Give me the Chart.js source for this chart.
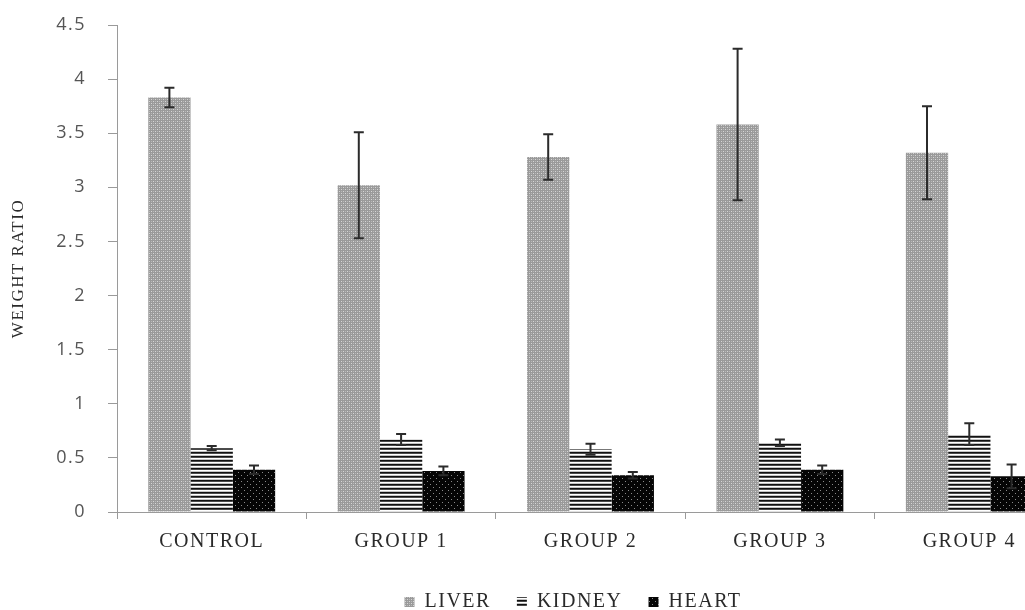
<!DOCTYPE html>
<html>
<head>
<meta charset="utf-8">
<script src="https://cdn.jsdelivr.net/npm/chart.js@4/dist/chart.umd.min.js"></script>
<style>
  html, body { margin: 0; padding: 0; background: #fff; overflow: hidden; }
  #wrap { width: 1080px; height: 610px; }
</style>
</head>
<body>
<div id="wrap"><canvas id="organChart"></canvas></div>
<script>
// Data
const groups = ['CONTROL', 'GROUP 1', 'GROUP 2', 'GROUP 3', 'GROUP 4'];
const liver = [3.83, 3.02, 3.28, 3.58, 3.32];
const liverErr = [0.09, 0.49, 0.21, 0.70, 0.43];
const kidney = [0.59, 0.67, 0.58, 0.64, 0.72];
const kidneyErr = [0.02, 0.05, 0.05, 0.03, 0.10];
const heart = [0.39, 0.38, 0.34, 0.39, 0.33];
const heartErr = [0.04, 0.04, 0.03, 0.04, 0.11];

// Build a small fill pattern from a tile
function makePattern(w, h, base, dots) {
    const c = document.createElement('canvas');
    c.width = w;
    c.height = h;
    const g = c.getContext('2d');
    g.fillStyle = base;
    g.fillRect(0, 0, w, h);
    dots.forEach(d => {
        g.fillStyle = d[4];
        g.fillRect(d[0], d[1], d[2], d[3]);
    });
    return g.createPattern(c, 'repeat');
}

const ctx = document.getElementById('organChart').getContext('2d');

// liver: grey mesh, kidney: horizontal stripes, heart: black with dots
const liverFill = makePattern(4, 4, '#9a9a9a', [
    [1, 1, 1, 1, '#d6d6d6'], [3, 3, 1, 1, '#d6d6d6'],
    [1, 3, 1, 1, '#b8b8b8'], [3, 1, 1, 1, '#b8b8b8']
]);
const kidneyFill = makePattern(4, 4, '#ffffff', [
    [0, 0, 4, 1, '#111111'], [0, 1, 4, 1, '#4a4a4a'], [0, 3, 4, 1, '#c4c4c4']
]);
const heartFill = makePattern(6, 6, '#050505', [
    [1, 1, 1, 1, '#8a8a8a'], [4, 4, 1, 1, '#8a8a8a']
]);

const errors = [liverErr, kidneyErr, heartErr];

// Draw error bars over each bar
const errorBars = {
    id: 'errorBars',
    afterDatasetsDraw(chart) {
        const y = chart.scales.y;
        const c = chart.ctx;
        c.save();
        c.strokeStyle = '#2b2b2b';
        c.lineWidth = 2;
        chart.data.datasets.forEach((ds, i) => {
            chart.getDatasetMeta(i).data.forEach((bar, j) => {
                const v = ds.data[j];
                const e = errors[i][j];
                const top = y.getPixelForValue(v + e);
                const bot = y.getPixelForValue(v - e);
                c.beginPath();
                c.moveTo(bar.x, top);
                c.lineTo(bar.x, bot);
                c.moveTo(bar.x - 5, top);
                c.lineTo(bar.x + 5, top);
                c.moveTo(bar.x - 5, bot);
                c.lineTo(bar.x + 5, bot);
                c.stroke();
            });
        });
        c.restore();
    }
};

// The figure's lettering is set a bit wide
const wideText = {
    id: 'wideText',
    beforeLayout(chart) { chart.ctx.letterSpacing = '1.5px'; },
    beforeDraw(chart) { chart.ctx.letterSpacing = '1.5px'; }
};

// Move the legend to where the figure has it
const legendNudge = {
    id: 'legendNudge',
    afterLayout(chart) {
        const l = chart.legend;
        l.left += 41;
        l.right += 41;
        l.top += 12;
        l.bottom += 12;
    }
};

new Chart(ctx, {
    type: 'bar',
    data: {
        labels: groups,
        datasets: [
            { label: 'LIVER', data: liver, backgroundColor: liverFill, borderWidth: 0 },
            { label: 'KIDNEY', data: kidney, backgroundColor: kidneyFill, borderWidth: 0 },
            { label: 'HEART', data: heart, backgroundColor: heartFill, borderWidth: 0 }
        ]
    },
    options: {
        responsive: true,
        maintainAspectRatio: false,
        animation: false,
        events: [],
        layout: { padding: { top: 25, right: 16, bottom: 0, left: 0 } },
        datasets: {
            bar: { barPercentage: 1, categoryPercentage: 0.67 }
        },
        scales: {
            x: {
                grid: { display: true, drawOnChartArea: false, offset: true, tickLength: 7, color: '#9a9a9a' },
                border: { color: '#9a9a9a' },
                ticks: {
                    color: '#2a2a2a',
                    padding: 11,
                    font: { family: 'Liberation Serif', size: 20 }
                },
                afterFit(scale) { scale.height = 42; }
            },
            y: {
                min: 0,
                max: 4.5,
                grid: { display: true, drawOnChartArea: false, tickLength: 9, color: '#9a9a9a' },
                border: { color: '#9a9a9a' },
                ticks: {
                    stepSize: 0.5,
                    color: '#555',
                    padding: 22,
                    font: { family: 'Open Sans', size: 18 },
                    callback: v => String(v)
                },
                title: {
                    display: true,
                    text: 'WEIGHT RATIO',
                    color: '#2a2a2a',
                    padding: { top: 8, bottom: 0 },
                    font: { family: 'Liberation Serif', size: 17 }
                },
                afterFit(scale) {
                    scale.width = 117;
                    scale.paddingTop = 10;
                    scale.paddingBottom = 10;
                }
            }
        },
        plugins: {
            tooltip: { enabled: false },
            legend: {
                position: 'bottom',
                labels: {
                    boxWidth: 10,
                    boxHeight: 10,
                    padding: 26,
                    color: '#2a2a2a',
                    font: { family: 'Liberation Serif', size: 20 }
                }
            }
        }
    },
    plugins: [wideText, errorBars, legendNudge]
});
</script>
</body>
</html>
